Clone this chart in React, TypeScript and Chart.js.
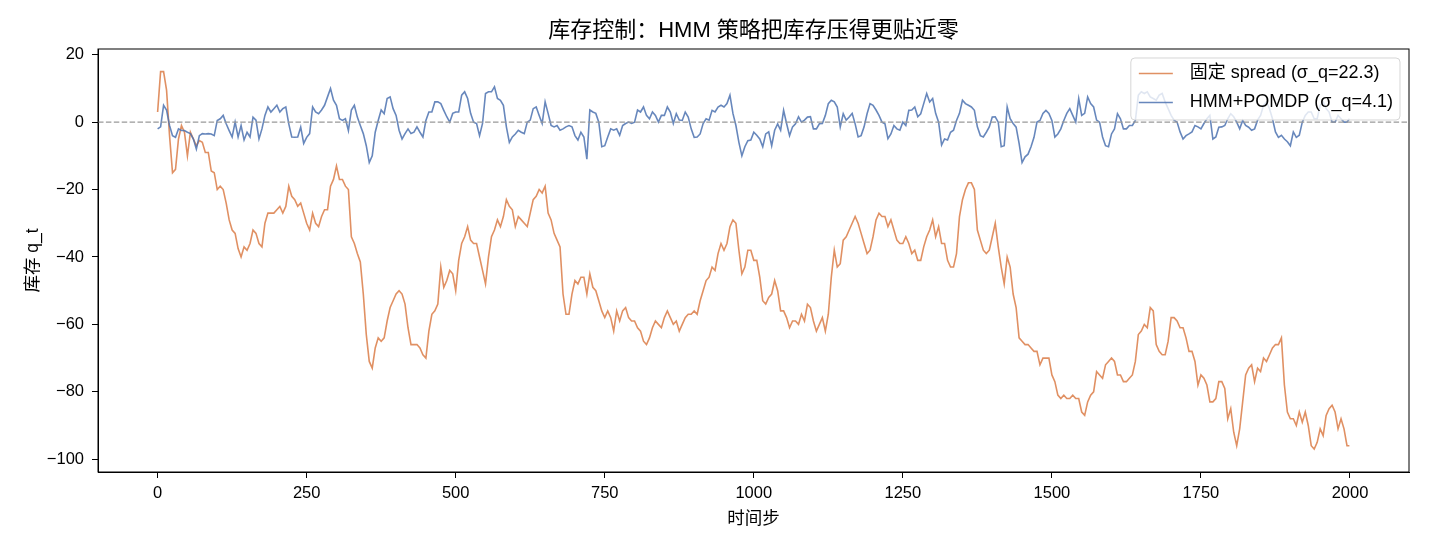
import React, { useEffect, useRef } from "react";
import { Chart, registerables, Plugin } from "chart.js";

Chart.register(...registerables);

const steps = [
  0, 5, 10, 15, 20, 25, 30, 35, 40, 45, 50, 55, 60, 65, 70, 75, 80, 85, 90, 95,
  100, 105, 110, 115, 120, 125, 130, 135, 140, 145, 150, 155, 160, 165, 170, 175, 180, 185, 190, 195,
  200, 205, 210, 215, 220, 225, 230, 235, 240, 245, 250, 255, 260, 265, 270, 275, 280, 285, 290, 295,
  300, 305, 310, 315, 320, 325, 330, 335, 340, 345, 350, 355, 360, 365, 370, 375, 380, 385, 390, 395,
  400, 405, 410, 415, 420, 425, 430, 435, 440, 445, 450, 455, 460, 465, 470, 475, 480, 485, 490, 495,
  500, 505, 510, 515, 520, 525, 530, 535, 540, 545, 550, 555, 560, 565, 570, 575, 580, 585, 590, 595,
  600, 605, 610, 615, 620, 625, 630, 635, 640, 645, 650, 655, 660, 665, 670, 675, 680, 685, 690, 695,
  700, 705, 710, 715, 720, 725, 730, 735, 740, 745, 750, 755, 760, 765, 770, 775, 780, 785, 790, 795,
  800, 805, 810, 815, 820, 825, 830, 835, 840, 845, 850, 855, 860, 865, 870, 875, 880, 885, 890, 895,
  900, 905, 910, 915, 920, 925, 930, 935, 940, 945, 950, 955, 960, 965, 970, 975, 980, 985, 990, 995,
  1000, 1005, 1010, 1015, 1020, 1025, 1030, 1035, 1040, 1045, 1050, 1055, 1060, 1065, 1070, 1075, 1080, 1085, 1090, 1095,
  1100, 1105, 1110, 1115, 1120, 1125, 1130, 1135, 1140, 1145, 1150, 1155, 1160, 1165, 1170, 1175, 1180, 1185, 1190, 1195,
  1200, 1205, 1210, 1215, 1220, 1225, 1230, 1235, 1240, 1245, 1250, 1255, 1260, 1265, 1270, 1275, 1280, 1285, 1290, 1295,
  1300, 1305, 1310, 1315, 1320, 1325, 1330, 1335, 1340, 1345, 1350, 1355, 1360, 1365, 1370, 1375, 1380, 1385, 1390, 1395,
  1400, 1405, 1410, 1415, 1420, 1425, 1430, 1435, 1440, 1445, 1450, 1455, 1460, 1465, 1470, 1475, 1480, 1485, 1490, 1495,
  1500, 1505, 1510, 1515, 1520, 1525, 1530, 1535, 1540, 1545, 1550, 1555, 1560, 1565, 1570, 1575, 1580, 1585, 1590, 1595,
  1600, 1605, 1610, 1615, 1620, 1625, 1630, 1635, 1640, 1645, 1650, 1655, 1660, 1665, 1670, 1675, 1680, 1685, 1690, 1695,
  1700, 1705, 1710, 1715, 1720, 1725, 1730, 1735, 1740, 1745, 1750, 1755, 1760, 1765, 1770, 1775, 1780, 1785, 1790, 1795,
  1800, 1805, 1810, 1815, 1820, 1825, 1830, 1835, 1840, 1845, 1850, 1855, 1860, 1865, 1870, 1875, 1880, 1885, 1890, 1895,
  1900, 1905, 1910, 1915, 1920, 1925, 1930, 1935, 1940, 1945, 1950, 1955, 1960, 1965, 1970, 1975, 1980, 1985, 1990, 1995,
  1999,
];

const fixedSpread = [
  3, 15, 15, 9.5, -4, -15, -14, -5, -1, -3, -10, -3, -5, -7, -5.5, -6, -9, -9, -14.5, -15,
  -20, -19, -20, -24, -29, -32, -33, -37.5, -40, -37, -38, -36, -32, -33, -36, -37, -30, -27, -27, -27,
  -26, -25, -27, -25, -19, -22, -23, -25, -24, -27, -30, -32, -27, -30, -31, -28, -26, -26, -19, -17,
  -13, -17, -17, -19, -20, -34, -36, -39, -41.5, -51, -63, -71, -73, -67, -64, -65, -64, -59, -55, -53,
  -51, -50, -51, -54, -61, -66, -66, -66, -67, -69, -70, -62, -57, -56, -54, -43, -49, -47, -44, -45,
  -50, -41, -36, -34, -31, -35, -36, -36, -40, -44, -48, -40, -34, -32, -29, -31, -28, -23, -25, -26,
  -31, -28, -29, -30, -31, -27, -23, -22, -20, -21, -19, -27, -29, -33, -35, -37, -51, -57, -57, -51,
  -47, -48, -46, -46, -51, -45, -49, -50, -53, -56, -58, -56, -58, -62, -56, -59, -56, -55, -58, -59,
  -59, -61, -62, -65, -66, -64, -61, -59, -60, -61, -58, -56, -58, -60, -59, -62, -60, -58, -57, -57,
  -56, -57, -53, -50, -47, -46, -43, -44, -39, -36, -38, -36, -31, -29, -30, -38, -45, -43, -38, -38,
  -41, -41, -46, -53, -54, -52, -51, -47, -50, -56, -56, -58, -61, -59, -59, -60, -57, -59, -54, -55,
  -59, -62, -60, -58, -62, -57, -46, -38, -43, -42, -35, -34, -32, -30, -28, -30, -33, -36, -39, -38,
  -34, -29, -27, -28, -28, -31, -29, -32, -35, -36, -36, -34, -36, -39, -38, -41, -41, -37, -34, -32,
  -29, -34, -31, -36, -36, -41, -43, -43, -39, -28, -23, -20, -18, -18, -20, -32, -35, -38, -39, -38,
  -34, -30, -37, -43, -48, -40, -43, -51, -55, -64, -65, -66, -66, -67, -68, -68, -72, -70, -70, -70,
  -75, -77, -81, -82, -81, -82, -82, -81, -82, -82, -86, -87, -83, -81, -80, -74, -75, -76, -72, -71,
  -70, -71, -75, -75, -77, -77, -76, -75, -71, -63, -62, -60, -61, -55, -56, -66, -68, -69, -69, -65,
  -58, -58, -59, -61, -61, -64, -68, -68, -71, -78, -75, -76, -78, -83, -83, -82, -77, -77, -79, -88,
  -85, -92, -96, -91, -83, -75, -73, -72, -77, -73, -74, -70, -71, -69, -67, -66, -66, -64, -78, -86,
  -88, -88, -90, -86, -89, -86, -90, -96, -97, -95, -91, -93, -87, -85, -84, -86, -91, -88, -91, -96,
  -96,
];

const hmmPomdp = [
  -2, -1.4, 5, 3.6, -1, -4, -4.5, -2, -2.5, -2.5, -3, -3.4, -5, -8, -4, -3.4, -3.5, -3.4, -3.5, -4,
  0.5, 1, 2, -0.5, -2.5, -4.4, 0, -4.4, -1, -5.3, -3, -4.4, 1.5, 0.6, -5, -2, 2, 4.5, 3, 4,
  5, 3, 4, 4.5, -0.5, -4.4, -4.5, -4.4, -1.5, -6.3, -4.5, -3.4, 4.5, 3, 2.5, 3.6, 5, 7.5, 10, 6.5,
  5, 1, 0.5, 1, -2.5, 3.6, 5, 1.5, -1, -3.4, -7, -12, -10, -3, 0.5, 3.6, 2.5, 7, 7.5, 4,
  2, -2.4, -5, -3.4, -2, -3.4, -3, -1.4, -3, -4.4, 0.5, 3, 3, 6, 6, 5.5, 3.5, 1.6, 0, 2.6,
  3, 3, 8, 9, 7, 2.6, 0, -0.4, -4, -0.4, 8.5, 9, 9, 10.5, 7, 6.5, 5, -1.4, -6, -4.4,
  -3.5, -2.4, -3, -3.4, 0, 0.6, 4, 4.5, 2, -0.4, 6, 2.6, -1, -1.4, -1, -2.4, -2, -1.4, -1, -1.4,
  -4, -5.3, -3, -4.4, -11, 3.6, 3, 2.6, 0, -7.3, -7, -4.4, -2, -2.4, -2, -3.9, -1, -0.4, 0, -0.4,
  0, 3.6, 3, 4.5, 2, 1, 3, 2, 0, 2, 2, 4.5, 3, -0.4, 2.5, 0.6, 0.5, 3, 1.5, -2,
  -4.5, -4.4, -3.5, -0.4, 1, 0.6, 3.5, 3, 4.5, 5, 4.5, 5.5, 8, 2.6, -1, -6, -10, -7.3, -5.5, -5.3,
  -3, -3.9, -5, -7.3, -3.5, -2.9, -7, -2.4, -0.5, -2.4, 3.5, -0.4, -4, -1.4, -0.5, 1.6, 0, 0.6, 1.5, 1.6,
  -2, -2, -0.5, -0.4, 2, 5.5, 6.5, 6, 4.5, -1.4, 2.5, 0.6, 1.5, 2.6, -0.5, -4.4, -4, -1.4, 2.5, 5.5,
  5, 3.6, 2, 0, -0.5, -4.9, -3.5, -1, -2, -2.4, 0, -1, 3.5, 3.6, 4.5, 1.6, 2.5, 5.5, 8.5, 6,
  7, 2.6, 0, -6.8, -5, -5.3, -3, -2.4, 0.5, 2.6, 6.5, 5.5, 5, 4.5, 3.5, -1.4, -4, -4.4, -3, -1.4,
  1.5, 1.6, 0, -7.3, -7, 4.5, 1, -0.4, -1.5, -6.3, -12, -10.3, -9.5, -7.3, -4.5, 0, 0.5, 2.6, 3.5, 2.6,
  0.5, -4.4, -3.5, -2, 0.5, 2.6, 4, 2, 0, 7, 2, 2.6, 7.5, 5.5, 4.5, 0.6, 0, -4.4, -7, -7.3,
  -3.5, -2, 2.5, 1, -2, -2, -1, -1, 0.5, 8, 9, 8.5, 9, 7.5, 7, 6.5, 8, 8.5, 6, 4,
  2, 0.6, 0, -2.9, -5, -4, -3.5, -2.9, -1, -1.4, -2, -0.4, 1, 2, -5, -4.4, -1.5, -1.4, -1, 1,
  2.5, 1.6, 0, -2, 0.5, -1, -1.5, -2.4, -2, 0.6, 2, 5, 6, 4, 1, -2.9, -4.5, -3.9, -5, -5.8,
  -7, -2.9, -4.5, -3.9, 0, 2, 3, 3, 1, 1, 5, 6, 4, 3, 0, 0, 2, 1, 0, 0,
  1,
];

const seriesLabels = ["固定 spread (σ_q=22.3)", "HMM+POMDP (σ_q=4.1)"];
const xTicks = [0, 250, 500, 750, 1000, 1250, 1500, 1750, 2000];
const yTicks = [-100, -80, -60, -40, -20, 0, 20];

const FONT = '"Liberation Sans", "Noto Sans CJK SC", sans-serif';
const ORANGE = "rgba(221,132,82,0.9)";
const BLUE = "rgba(76,114,176,0.85)";

const decorPlugin: Plugin = {
  id: "decor",
  afterDatasetsDraw(chart) {
    const { ctx, chartArea } = chart;
    const y0 = chart.scales.y.getPixelForValue(0);
    ctx.save();
    // zero reference line
    ctx.strokeStyle = "#999";
    ctx.lineWidth = 1.3;
    ctx.setLineDash([5.5, 2.4]);
    ctx.beginPath();
    ctx.moveTo(chartArea.left, y0);
    ctx.lineTo(chartArea.right, y0);
    ctx.stroke();
    ctx.setLineDash([]);

    // legend in upper right
    ctx.font = `18px ${FONT}`;
    const maxW = Math.max(...seriesLabels.map((t) => ctx.measureText(t).width));
    const boxW = 59 + maxW + 7;
    const boxH = 62;
    const right = chartArea.right - 9;
    const top = chartArea.top + 9;
    const left = right - boxW;
    ctx.fillStyle = "rgba(255,255,255,0.8)";
    ctx.strokeStyle = "rgba(204,204,204,0.8)";
    ctx.lineWidth = 1;
    ctx.beginPath();
    ctx.roundRect(left, top, boxW, boxH, 4);
    ctx.fill();
    ctx.stroke();
    const colors = [ORANGE, BLUE];
    seriesLabels.forEach((t, i) => {
      const cy = top + 15.5 + i * 29;
      ctx.strokeStyle = colors[i];
      ctx.lineWidth = 1.6;
      ctx.beginPath();
      ctx.moveTo(left + 8, cy);
      ctx.lineTo(left + 42, cy);
      ctx.stroke();
      ctx.fillStyle = "#000";
      ctx.textAlign = "left";
      ctx.textBaseline = "middle";
      ctx.fillText(t, left + 59, cy);
    });
    ctx.restore();
  },
  afterDraw(chart) {
    const { ctx, chartArea } = chart;
    ctx.save();
    ctx.strokeStyle = "#000";
    ctx.lineWidth = 1;
    ctx.strokeRect(chartArea.left, chartArea.top, chartArea.right - chartArea.left, chartArea.bottom - chartArea.top);
    ctx.font = `22px ${FONT}`;
    ctx.fillStyle = "#000";
    ctx.textAlign = "center";
    ctx.textBaseline = "middle";
    ctx.fillText("库存控制：HMM 策略把库存压得更贴近零", (chartArea.left + chartArea.right) / 2, 30.5);
    ctx.restore();
  },
};

const InventoryChart = () => {
  const chartRef = useRef<HTMLCanvasElement | null>(null);
  const chartInstance = useRef<Chart | null>(null);

  useEffect(() => {
    document.body.style.margin = "0";
    if (chartInstance.current) chartInstance.current.destroy();
    const ctx = chartRef.current?.getContext("2d");
    if (!ctx) return;

    chartInstance.current = new Chart(ctx, {
      type: "line",
      data: {
        datasets: [
          {
            label: seriesLabels[0],
            data: steps.map((s, i) => ({ x: s, y: fixedSpread[i] })),
            borderColor: ORANGE,
            borderWidth: 1.6,
            pointRadius: 0,
            tension: 0,
            order: 1,
          },
          {
            label: seriesLabels[1],
            data: steps.map((s, i) => ({ x: s, y: hmmPomdp[i] })),
            borderColor: BLUE,
            borderWidth: 1.6,
            pointRadius: 0,
            tension: 0,
            order: 0,
          },
        ],
      },
      options: {
        responsive: false,
        animation: false,
        layout: { padding: { left: 0, right: 21, top: 49, bottom: 0 } },
        plugins: {
          legend: { display: false },
          title: { display: false },
          tooltip: { enabled: false },
        },
        scales: {
          x: {
            type: "linear",
            min: -100,
            max: 2099,
            afterBuildTicks: (scale) => {
              scale.ticks = xTicks.map((v) => ({ value: v }));
            },
            afterFit: (scale) => {
              scale.height = 74;
            },
            ticks: {
              color: "#000",
              font: { family: FONT, size: 16.5 },
              padding: 6,
              maxRotation: 0,
              autoSkip: false,
              callback: (v) => String(v),
            },
            grid: { display: true, drawOnChartArea: false, drawTicks: true, tickLength: 6, color: "#000" },
            border: { display: true, color: "#000", width: 1 },
            title: {
              display: true,
              text: "时间步",
              color: "#000",
              font: { family: FONT, size: 17.5 },
              padding: { top: 4, bottom: 16.5 },
            },
          },
          y: {
            type: "linear",
            min: -103.8,
            max: 21.7,
            afterBuildTicks: (scale) => {
              scale.ticks = yTicks.map((v) => ({ value: v }));
            },
            afterFit: (scale) => {
              scale.width = 98;
            },
            ticks: {
              color: "#000",
              font: { family: FONT, size: 16.5 },
              padding: 8,
              callback: (v) => String(v).replace("-", "\u2212"),
            },
            grid: { display: true, drawOnChartArea: false, drawTicks: true, tickLength: 6, color: "#000" },
            border: { display: true, color: "#000", width: 1 },
            title: {
              display: true,
              text: "库存 q_t",
              color: "#000",
              font: { family: FONT, size: 17.5 },
              padding: { top: 22.5, bottom: 22.5 },
            },
          },
        },
      },
      plugins: [decorPlugin],
    });

    return () => {
      if (chartInstance.current) chartInstance.current.destroy();
      chartInstance.current = null;
    };
  }, []);

  return (
    <div style={{ width: 1430, height: 546, background: "#fff" }}>
      <canvas ref={chartRef} width={1430} height={546} style={{ display: "block" }}></canvas>
    </div>
  );
};

export default function App() {
  return <InventoryChart />;
}
